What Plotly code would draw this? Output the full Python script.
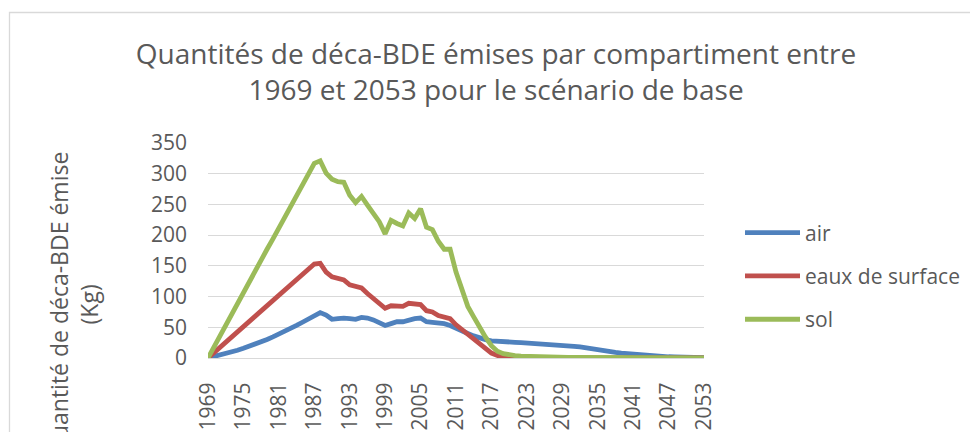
import plotly.graph_objects as go

years = list(range(1969, 2054))

air = [0, 2.1, 4.4, 6.9, 9.6, 12.5, 15.7, 19.0, 22.5, 26.3,
       30.2, 34.4, 38.7, 43.3, 48.1, 53.0, 58.2, 63.6, 69.2, 74.0,
       70, 63, 64, 65, 64, 63, 66, 65, 62, 58,
       53, 56, 59, 59, 62, 64, 65, 59, 58, 57,
       56, 53, 48, 44, 40, 36, 32, 30, 28, 27,
       26.5, 26, 25.5, 25, 24.5, 24, 23.5, 23, 22.2, 21.5,
       20.5, 19.8, 19, 18, 16.5, 13.5, 12, 11, 10, 9,
       8, 7, 6, 5.2, 4.4, 3.7, 3.1, 2.5, 2.0, 1.6,
       1.3, 1.0, 0.8, 0.6, 0.5]

eaux_surface = [0, 8.5, 17, 25.5, 34, 42.5, 51, 59.5, 68, 76.5,
                85, 93.5, 102, 110.5, 119, 127.5, 136, 144.5, 153, 154,
                140, 132, 130, 127, 119, 116, 114, 105, 97, 89,
                81, 85, 85, 84, 89, 88, 87, 77, 75, 69,
                67, 64, 54, 46, 39, 30, 22, 15, 8, 4,
                1.5, 0.8, 0.5, 0.4, 0.3, 0.3, 0.2, 0.2, 0.2, 0.1,
                0.1, 0.1, 0.1, 0.1, 0.1, 0.1, 0.1, 0.1, 0.1, 0.1,
                0.1, 0.1, 0.1, 0.1, 0.1, 0.05, 0.05, 0.05, 0.05, 0.05,
                0.05, 0.05, 0.05, 0.05, 0.05]

sol = [0, 18, 35, 53, 71, 88, 106, 124, 141, 159,
       177, 194, 212, 230, 247, 265, 283, 300, 317, 321,
       301, 291, 287, 286, 265, 253, 263, 249, 234, 222,
       202, 224, 219, 215, 236, 227, 243, 213, 209, 190,
       177, 177, 140, 111, 84, 67, 50, 34, 20, 11,
       7, 5, 4, 3, 2.5, 2, 1.6, 1.3, 1.1, 1.0,
       0.9, 0.85, 0.8, 0.75, 0.7, 0.65, 0.6, 0.55, 0.5, 0.48,
       0.45, 0.43, 0.4, 0.38, 0.35, 0.33, 0.3, 0.28, 0.26, 0.24,
       0.22, 0.2, 0.19, 0.18, 0.17]

series_names = ["air", "eaux de surface", "sol"]
series_values = [air, eaux_surface, sol]
series_colors = ["#4F81BD", "#C0504D", "#9BBB59"]

x_tick_years = list(range(1969, 2054, 6))
y_ticks = [0, 50, 100, 150, 200, 250, 300, 350]

title_text = "Quantités de déca-BDE émises par compartiment entre<br>1969 et 2053 pour le scénario de base"
y_title_text = "Quantité de déca-BDE émise<br>(Kg)"

FONT = "Open Sans"
GREY = "#595959"
GRID = "#d9d9d9"

fig = go.Figure()
for name, vals, col in zip(series_names, series_values, series_colors):
    fig.add_trace(go.Scatter(
        x=years, y=vals, name=name, mode="lines", legendgroup=name,
        line=dict(color=col, width=4.8),
    ))

L, R, T, B = 208, 266, 143, 74
W, H = 970, 432
pw, ph = W - L - R, H - T - B

def px_x(p):
    return (p - L) / pw

def px_y(p):
    return (H - B - p) / ph

fig.update_layout(
    width=W, height=H,
    margin=dict(l=L, r=R, t=T, b=B, pad=0, autoexpand=False),
    paper_bgcolor="white", plot_bgcolor="white",
    font=dict(family=FONT, color=GREY, size=21),
    title=dict(text=title_text, x=496 / W, xanchor="center",
               y=1 - 64 / H, yanchor="middle", yref="container", xref="container",
               font=dict(family=FONT, size=28, color=GREY)),
    showlegend=True,
    legend=dict(x=px_x(740), xanchor="left", y=px_y(276), yanchor="middle",
                font=dict(family=FONT, size=21, color=GREY),
                itemwidth=55, tracegroupgap=13, bgcolor="rgba(0,0,0,0)"),
    xaxis=dict(range=[1969, 2053], tickmode="array", tickvals=x_tick_years,
               ticktext=[str(v) for v in x_tick_years], tickangle=-90,
               showgrid=False, zeroline=False, showline=True, linecolor=GRID,
               linewidth=1.3, ticks="", ticklabelstandoff=15, automargin=False,
               tickfont=dict(family=FONT, size=21, color=GREY)),
    yaxis=dict(range=[0, 350], tickmode="array", tickvals=y_ticks,
               showgrid=True, gridcolor=GRID, gridwidth=1.3, zeroline=False,
               showline=False, ticks="", ticklabelstandoff=20, automargin=False,
               tickfont=dict(family=FONT, size=21, color=GREY)),
    annotations=[dict(text=y_title_text, textangle=-90, xref="paper", yref="paper",
                      x=px_x(74), y=px_y(305), xanchor="center", yanchor="middle",
                      showarrow=False, align="center",
                      font=dict(family=FONT, size=23, color=GREY))],
    shapes=[dict(type="rect", xref="paper", yref="paper",
                 x0=px_x(9.5), x1=px_x(1000), y0=px_y(12.5), y1=px_y(460),
                 line=dict(color=GRID, width=1.3), fillcolor="rgba(0,0,0,0)",
                 layer="below")],
)

fig.write_html("out.html", config={"displayModeBar": False},
               post_script="document.body.style.margin='0px';")
